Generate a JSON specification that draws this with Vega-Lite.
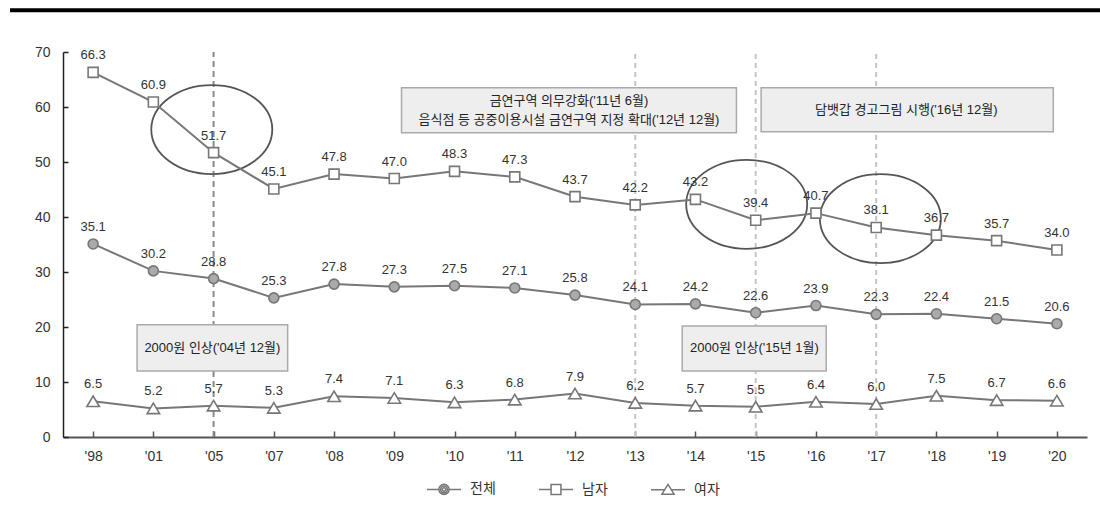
{
  "$schema": "https://vega.github.io/schema/vega-lite/v6.json",
  "width": 1024,
  "height": 385,
  "autosize": {"type": "none"},
  "padding": {"left": 63, "top": 52, "right": 13, "bottom": 89},
  "background": "white",
  "config": {
    "view": {"stroke": null},
    "font": "Liberation Sans, Noto Sans CJK KR",
    "axis": {"grid": false},
    "legend": {"symbolStrokeWidth": 1.5, "symbolStrokeColor": "#777777"}
  },
  "datasets": {
    "rates": [
      {"year": "'98", "series": "남자", "value": 66.3},
      {"year": "'01", "series": "남자", "value": 60.9},
      {"year": "'05", "series": "남자", "value": 51.7},
      {"year": "'07", "series": "남자", "value": 45.1},
      {"year": "'08", "series": "남자", "value": 47.8},
      {"year": "'09", "series": "남자", "value": 47.0},
      {"year": "'10", "series": "남자", "value": 48.3},
      {"year": "'11", "series": "남자", "value": 47.3},
      {"year": "'12", "series": "남자", "value": 43.7},
      {"year": "'13", "series": "남자", "value": 42.2},
      {"year": "'14", "series": "남자", "value": 43.2},
      {"year": "'15", "series": "남자", "value": 39.4},
      {"year": "'16", "series": "남자", "value": 40.7},
      {"year": "'17", "series": "남자", "value": 38.1},
      {"year": "'18", "series": "남자", "value": 36.7},
      {"year": "'19", "series": "남자", "value": 35.7},
      {"year": "'20", "series": "남자", "value": 34.0},
      {"year": "'98", "series": "전체", "value": 35.1},
      {"year": "'01", "series": "전체", "value": 30.2},
      {"year": "'05", "series": "전체", "value": 28.8},
      {"year": "'07", "series": "전체", "value": 25.3},
      {"year": "'08", "series": "전체", "value": 27.8},
      {"year": "'09", "series": "전체", "value": 27.3},
      {"year": "'10", "series": "전체", "value": 27.5},
      {"year": "'11", "series": "전체", "value": 27.1},
      {"year": "'12", "series": "전체", "value": 25.8},
      {"year": "'13", "series": "전체", "value": 24.1},
      {"year": "'14", "series": "전체", "value": 24.2},
      {"year": "'15", "series": "전체", "value": 22.6},
      {"year": "'16", "series": "전체", "value": 23.9},
      {"year": "'17", "series": "전체", "value": 22.3},
      {"year": "'18", "series": "전체", "value": 22.4},
      {"year": "'19", "series": "전체", "value": 21.5},
      {"year": "'20", "series": "전체", "value": 20.6},
      {"year": "'98", "series": "여자", "value": 6.5},
      {"year": "'01", "series": "여자", "value": 5.2},
      {"year": "'05", "series": "여자", "value": 5.7},
      {"year": "'07", "series": "여자", "value": 5.3},
      {"year": "'08", "series": "여자", "value": 7.4},
      {"year": "'09", "series": "여자", "value": 7.1},
      {"year": "'10", "series": "여자", "value": 6.3},
      {"year": "'11", "series": "여자", "value": 6.8},
      {"year": "'12", "series": "여자", "value": 7.9},
      {"year": "'13", "series": "여자", "value": 6.2},
      {"year": "'14", "series": "여자", "value": 5.7},
      {"year": "'15", "series": "여자", "value": 5.5},
      {"year": "'16", "series": "여자", "value": 6.4},
      {"year": "'17", "series": "여자", "value": 6.0},
      {"year": "'18", "series": "여자", "value": 7.5},
      {"year": "'19", "series": "여자", "value": 6.7},
      {"year": "'20", "series": "여자", "value": 6.6}
    ],
    "frame": [{"x": -1.38, "x2": 16.72, "y": 77.6}],
    "policyDark": [{"x": 2}],
    "policyLight": [{"x": 9}, {"x": 11}, {"x": 13}],
    "boxes": [
      {"x": 0.73, "x2": 3.23, "y": 20.4, "y2": 12.0},
      {"x": 9.78, "x2": 12.17, "y": 20.2, "y2": 12.0},
      {"x": 5.12, "x2": 10.68, "y": 63.5, "y2": 55.3},
      {"x": 11.09, "x2": 15.94, "y": 63.5, "y2": 55.5}
    ],
    "notes": [
      {"x": 1.98, "y": 16.2, "text": "2000원 인상('04년 12월)"},
      {"x": 10.98, "y": 16.1, "text": "2000원 인상('15년 1월)"},
      {"x": 7.9, "y": 61.1, "text": "금연구역 의무강화('11년 6월)"},
      {"x": 7.9, "y": 57.6, "text": "음식점 등 공중이용시설 금연구역 지정 확대('12년 12월)"},
      {"x": 13.5, "y": 59.5, "text": "담뱃갑 경고그림 시행('16년 12월)"}
    ],
    "circles": [
      {"x": 1.97, "y": 55.9},
      {"x": 10.85, "y": 42.3},
      {"x": 13.07, "y": 39.7}
    ],
    "legendKeys": [
      {"series": "전체"}, {"series": "남자"}, {"series": "여자"}
    ]
  },
  "resolve": {"scale": {"x": "independent", "shape": "independent", "fill": "independent"}},
  "layer": [
    {
      "data": {"name": "frame"},
      "mark": {"type": "rule", "color": "#000", "strokeWidth": 4},
      "encoding": {
        "x": {"field": "x", "type": "quantitative", "scale": {"domain": [-0.5, 16.5], "nice": false, "zero": false}, "axis": null},
        "x2": {"field": "x2"},
        "y": {"field": "y", "type": "quantitative", "scale": {"domain": [0, 70], "nice": false}}
      }
    },
    {
      "data": {"name": "policyDark"},
      "mark": {"type": "rule", "color": "#8a8a8a", "strokeWidth": 2, "strokeDash": [6, 4]},
      "encoding": {
        "x": {"field": "x", "type": "quantitative", "scale": {"domain": [-0.5, 16.5], "nice": false, "zero": false}, "axis": null},
        "y": {"datum": 0, "type": "quantitative", "scale": {"domain": [0, 70], "nice": false}},
        "y2": {"datum": 70}
      }
    },
    {
      "data": {"name": "policyLight"},
      "mark": {"type": "rule", "color": "#c4c4c4", "strokeWidth": 2, "strokeDash": [5, 4]},
      "encoding": {
        "x": {"field": "x", "type": "quantitative", "scale": {"domain": [-0.5, 16.5], "nice": false, "zero": false}, "axis": null},
        "y": {"datum": 0, "type": "quantitative", "scale": {"domain": [0, 70], "nice": false}},
        "y2": {"datum": 70}
      }
    },
    {
      "data": {"name": "boxes"},
      "mark": {"type": "rect", "fill": "#eeeeee", "stroke": "#aaaaaa", "strokeWidth": 1.5},
      "encoding": {
        "x": {"field": "x", "type": "quantitative", "scale": {"domain": [-0.5, 16.5], "nice": false, "zero": false}, "axis": null},
        "x2": {"field": "x2"},
        "y": {"field": "y", "type": "quantitative", "scale": {"domain": [0, 70], "nice": false}},
        "y2": {"field": "y2"}
      }
    },
    {
      "data": {"name": "notes"},
      "mark": {"type": "text", "fontSize": 13, "color": "#222", "align": "center", "baseline": "middle"},
      "encoding": {
        "x": {"field": "x", "type": "quantitative", "scale": {"domain": [-0.5, 16.5], "nice": false, "zero": false}, "axis": null},
        "y": {"field": "y", "type": "quantitative", "scale": {"domain": [0, 70], "nice": false}},
        "text": {"field": "text"}
      }
    },
    {
      "data": {"name": "circles"},
      "mark": {"type": "point", "filled": false, "opacity": 1, "stroke": "#555", "strokeWidth": 1.8, "size": 14641,
        "shape": "M -1 0 C -1 -0.4062 -0.5523 -0.7355 0 -0.7355 C 0.5523 -0.7355 1 -0.4062 1 0 C 1 0.4062 0.5523 0.7355 0 0.7355 C -0.5523 0.7355 -1 0.4062 -1 0 Z"},
      "encoding": {
        "x": {"field": "x", "type": "quantitative", "scale": {"domain": [-0.5, 16.5], "nice": false, "zero": false}, "axis": null},
        "y": {"field": "y", "type": "quantitative", "scale": {"domain": [0, 70], "nice": false}}
      }
    },
    {
      "data": {"name": "rates"},
      "mark": {"type": "line", "color": "#777", "strokeWidth": 2},
      "encoding": {
        "x": {"field": "year", "type": "ordinal",
          "scale": {"type": "point", "padding": 0.5, "domain": ["'98","'01","'05","'07","'08","'09","'10","'11","'12","'13","'14","'15","'16","'17","'18","'19","'20"]},
          "axis": {"title": null, "labelAngle": 0, "domainColor": "#555", "domainWidth": 2, "tickColor": "#555", "tickWidth": 1.5, "tickSize": -6, "labelPadding": 18, "labelFontSize": 14, "labelColor": "#333"}},
        "y": {"field": "value", "type": "quantitative", "scale": {"domain": [0, 70], "nice": false},
          "axis": {"title": null, "values": [0, 10, 20, 30, 40, 50, 60, 70], "domainColor": "#222", "domainWidth": 1.5, "tickColor": "#222", "tickWidth": 1.5, "tickSize": -5, "labelPadding": 18, "labelFontSize": 14, "labelColor": "#333"}},
        "detail": {"field": "series"},
        "order": {"value": null}
      }
    },
    {
      "data": {"name": "rates"},
      "mark": {"type": "point", "filled": true, "opacity": 1, "stroke": "#777", "strokeWidth": 1.6, "size": 100},
      "encoding": {
        "x": {"field": "year", "type": "ordinal",
          "scale": {"type": "point", "padding": 0.5, "domain": ["'98","'01","'05","'07","'08","'09","'10","'11","'12","'13","'14","'15","'16","'17","'18","'19","'20"]},
          "axis": null},
        "y": {"field": "value", "type": "quantitative", "scale": {"domain": [0, 70], "nice": false}},
        "shape": {"field": "series", "type": "nominal",
          "scale": {"domain": ["전체", "남자", "여자"], "range": ["circle", "square", "M 0 -1.05 L 1.25 1.05 L -1.25 1.05 Z"]},
          "legend": null},
        "fill": {"field": "series", "type": "nominal",
          "scale": {"domain": ["전체", "남자", "여자"], "range": ["#aaaaaa", "#ffffff", "#ffffff"]},
          "legend": null}
      }
    },
    {
      "data": {"name": "rates"},
      "mark": {"type": "text", "dy": -17, "fontSize": 13, "color": "#333", "baseline": "middle"},
      "encoding": {
        "x": {"field": "year", "type": "ordinal",
          "scale": {"type": "point", "padding": 0.5, "domain": ["'98","'01","'05","'07","'08","'09","'10","'11","'12","'13","'14","'15","'16","'17","'18","'19","'20"]},
          "axis": null},
        "y": {"field": "value", "type": "quantitative", "scale": {"domain": [0, 70], "nice": false}},
        "text": {"field": "value", "type": "quantitative", "format": ".1f"}
      }
    },
    {
      "data": {"name": "legendKeys"},
      "transform": [{"filter": "datum.series == 'none'"}],
      "mark": {"type": "point", "filled": false, "opacity": 1, "color": "#777", "strokeWidth": 1.5, "size": 1156},
      "encoding": {
        "shape": {"field": "series", "type": "nominal",
          "scale": {"domain": ["전체", "남자", "여자"], "range": [
            "M -1 0 L -0.3 0 M 0.3 0 L 1 0 M -0.3 0 C -0.3 -0.166 -0.166 -0.3 0 -0.3 C 0.166 -0.3 0.3 -0.166 0.3 0 C 0.3 0.166 0.166 0.3 0 0.3 C -0.166 0.3 -0.3 0.166 -0.3 0 Z M -0.2 0 C -0.2 -0.11 -0.11 -0.2 0 -0.2 C 0.11 -0.2 0.2 -0.11 0.2 0 C 0.2 0.11 0.11 0.2 0 0.2 C -0.11 0.2 -0.2 0.11 -0.2 0 Z M -0.1 0 C -0.1 -0.055 -0.055 -0.1 0 -0.1 C 0.055 -0.1 0.1 -0.055 0.1 0 C 0.1 0.055 0.055 0.1 0 0.1 C -0.055 0.1 -0.1 0.055 -0.1 0 Z",
            "M -1 0 L -0.29 0 M 0.29 0 L 1 0 M -0.29 -0.29 L 0.29 -0.29 L 0.29 0.29 L -0.29 0.29 Z",
            "M -1 0 L -0.2 0 M 0.2 0 L 1 0 M 0 -0.32 L 0.36 0.26 L -0.36 0.26 Z"]},
          "legend": {"title": null, "orient": "none", "legendX": 363, "legendY": 419, "direction": "horizontal",
            "symbolSize": 1156, "symbolStrokeWidth": 1.5, "symbolStrokeColor": "#777777", "gridAlign": "all",
            "labelFontSize": 14, "labelColor": "#333", "labelOffset": 8, "columnPadding": 40}}
      }
    }
  ]
}
